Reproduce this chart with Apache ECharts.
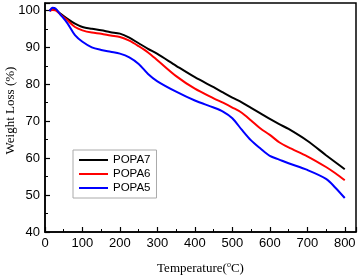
<!DOCTYPE html>
<html>
<head>
<meta charset="utf-8">
<script src="https://cdn.jsdelivr.net/npm/echarts@6/dist/echarts.min.js"></script>
<style>html,body{margin:0;padding:0;background:#fff}#c{width:359px;height:279px}</style>
</head>
<body>
<div id="c"></div>
<script>
var temps = [12,20,28,40,60,80,100,125,150,175,200,225,250,275,300,350,400,450,475,500,525,550,575,600,625,650,700,750,775,800];
var popa7 = [99.9,100.3,100.2,99.2,97.7,96.4,95.5,95.0,94.6,94.1,93.7,92.6,91.1,89.6,88.2,85.0,81.9,79.2,77.8,76.4,75.1,73.6,72.1,70.6,69.2,67.9,64.7,60.8,58.9,57.0];
var popa6 = [99.9,100.1,100.0,99.0,97.3,95.5,94.6,94.0,93.7,93.2,92.8,91.8,90.3,88.6,86.5,82.2,78.8,76.2,75.0,73.7,72.3,70.2,68.0,66.3,64.3,62.9,60.5,57.6,55.9,54.0];
var popa5 = [99.8,100.7,100.5,99.0,96.5,93.3,91.5,90.0,89.3,88.8,88.3,87.3,85.5,82.8,80.8,78.0,75.6,73.7,72.6,70.8,67.7,64.8,62.6,60.6,59.6,58.6,56.8,54.4,52.0,49.2];
var names = ['POPA7','POPA6','POPA5'];
var colors = ['#000000','#ff0000','#0000ff'];

function pairs(v){ return temps.map(function(t,i){ return [t, v[i]]; }); }
var all = [popa7, popa6, popa5];

var chart = echarts.init(document.getElementById('c'), null, {renderer:'canvas'});
chart.setOption({
  animation:false,
  backgroundColor:'#fff',
  grid:{left:45, right:3, top:3, bottom:47, containLabel:false, outerBoundsMode:'none',
    show:true, borderColor:'#000', borderWidth:1.5, backgroundColor:'transparent'},
  legend:{
    orient:'vertical', left:73, top:150,
    data:names,
    itemWidth:29, itemHeight:14, itemGap:2,
    padding:[4,6,4,5],
    borderColor:'#aaa', borderWidth:1,
    itemStyle:{opacity:0},
    lineStyle:{width:2},
    textStyle:{fontFamily:'Liberation Sans', fontSize:11.5, color:'#000'}
  },
  xAxis:{
    type:'value', min:0, max:830, interval:100,
    name:'Temperature({sup|o}C)', nameLocation:'middle', nameGap:29,
    nameTextStyle:{fontFamily:'Liberation Serif', fontSize:13, color:'#000',
      rich:{sup:{fontFamily:'Liberation Serif', fontSize:8, verticalAlign:'top', padding:[0,0,8,0]}}},
    axisLine:{lineStyle:{color:'#000', width:1.5}},
    axisTick:{inside:true, length:5, lineStyle:{color:'#000', width:1.2}},
    minorTick:{show:true, splitNumber:2, length:3, lineStyle:{color:'#000', width:1}},
    axisLabel:{fontFamily:'Liberation Sans', fontSize:13, color:'#000', margin:5, showMaxLabel:false},
    splitLine:{show:false}
  },
  yAxis:{
    type:'value', min:40, max:102, interval:10,
    name:'Weight Loss (%)', nameLocation:'middle', nameGap:28, nameMoveOverlap:false,
    nameTextStyle:{fontFamily:'Liberation Serif', fontSize:13, color:'#000', padding:[0,0,0,14]},
    axisLine:{lineStyle:{color:'#000', width:1.5}},
    axisTick:{inside:true, length:5, lineStyle:{color:'#000', width:1.2}},
    minorTick:{show:true, splitNumber:2, length:3, lineStyle:{color:'#000', width:1}},
    axisLabel:{fontFamily:'Liberation Sans', fontSize:13, color:'#000', margin:5, showMaxLabel:false},
    splitLine:{show:false}
  },
  series: all.map(function(v,i){
    return {name:names[i], type:'line', data:pairs(v), symbol:'none', smooth:0.3,
      lineStyle:{color:colors[i], width:2}, itemStyle:{color:colors[i]}};
  })
});
</script>
</body>
</html>
